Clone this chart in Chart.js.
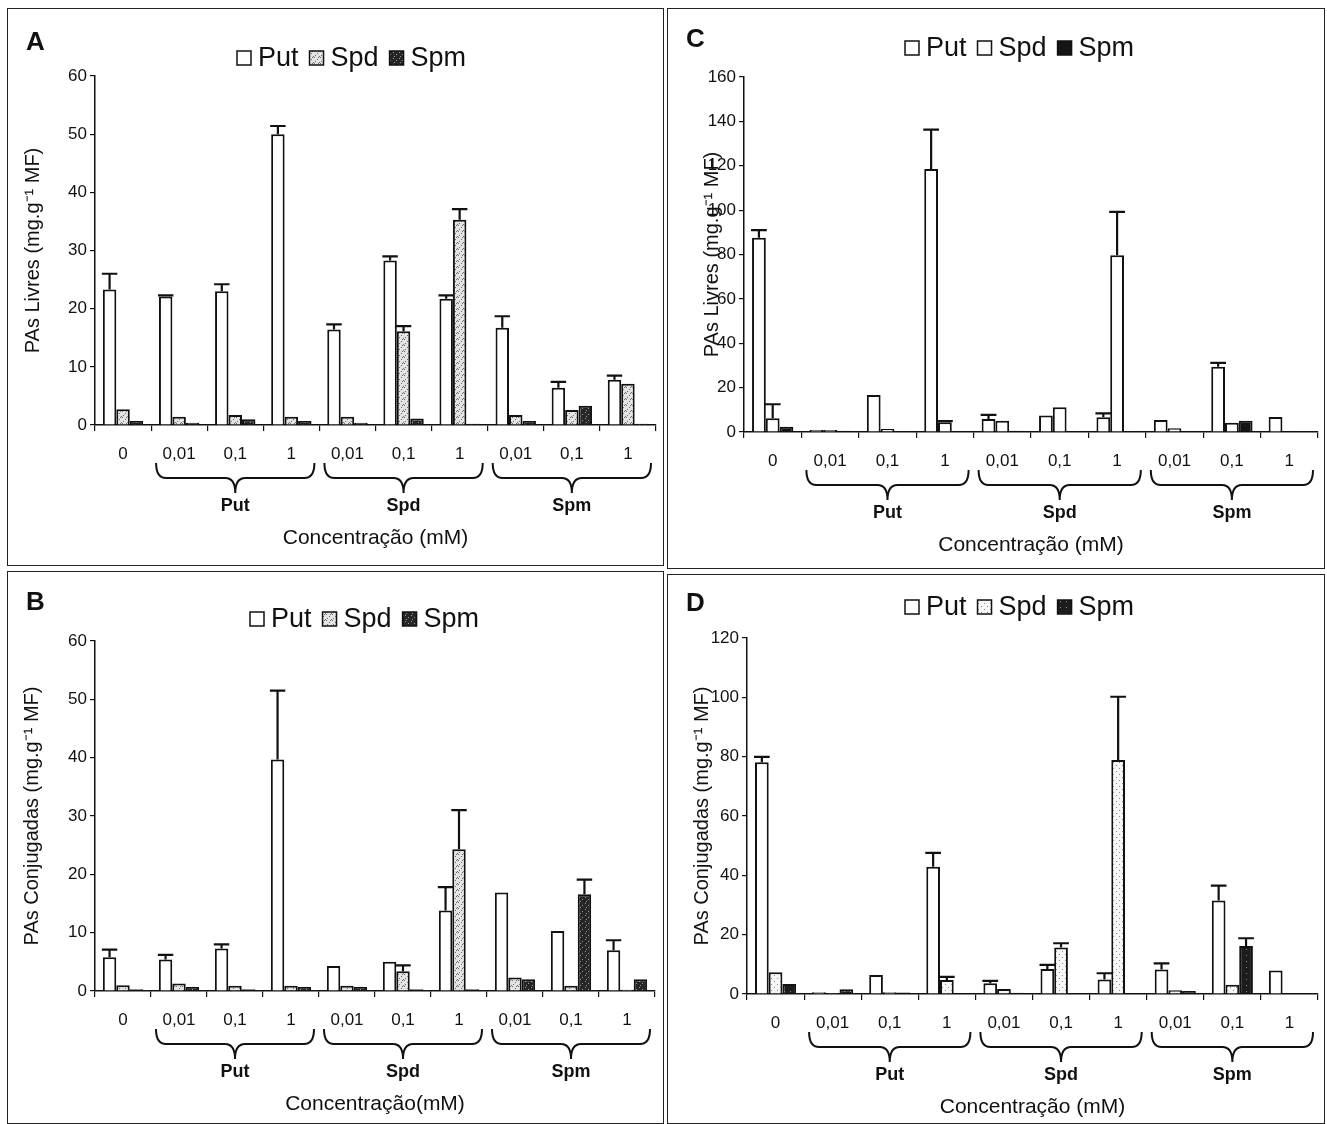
<!DOCTYPE html>
<html>
<head>
<meta charset="utf-8">
<script src="https://cdn.jsdelivr.net/npm/chart.js@4.4.1/dist/chart.umd.min.js"></script>
<style>
  body { margin: 0; background: #fff; width: 1327px; height: 1124px; position: relative; overflow: hidden; }
  .panel { position: absolute; border: 1px solid #222; box-sizing: border-box; background: #fff; }
  .panel canvas { position: absolute; left: 0; top: 0; }
</style>
</head>
<body>
<div class="panel" id="pA"><canvas id="cA"></canvas></div>
<div class="panel" id="pB"><canvas id="cB"></canvas></div>
<div class="panel" id="pC"><canvas id="cC"></canvas></div>
<div class="panel" id="pD"><canvas id="cD"></canvas></div>
<script>
// categorias do eixo x
const categories = ["0", "0,01", "0,1", "1", "0,01", "0,1", "1", "0,01", "0,1", "1"];
const groupLabels = ["Put", "Spd", "Spm"];
const seriesNames = ["Put", "Spd", "Spm"];

// A - PAs livres (esquerda)
const aPut   = [23.3, 22.1, 23.0, 50.0, 16.4, 28.3, 21.7, 16.7, 6.4, 7.8];
const aPutSd = [2.7, 0.2, 1.2, 1.4, 0.9, 0.7, 0.6, 2.0, 1.0, 0.7];
const aSpd   = [2.7, 1.4, 1.7, 1.4, 1.4, 16.1, 35.3, 1.7, 2.6, 7.1];
const aSpdSd = [0, 0, 0, 0, 0, 0.9, 1.8, 0, 0, 0];
const aSpm   = [0.7, 0.4, 1.0, 0.7, 0.4, 1.1, 0.2, 0.7, 3.3, 0.2];
const aSpmSd = [0, 0, 0, 0, 0, 0, 0, 0, 0, 0];

// B - PAs conjugadas (esquerda)
const bPut   = [5.8, 5.4, 7.3, 39.7, 4.3, 5.0, 13.8, 16.9, 10.3, 7.0];
const bPutSd = [1.3, 0.8, 0.7, 11.8, 0, 0, 4.0, 0, 0, 1.7];
const bSpd   = [1.0, 1.3, 0.9, 0.9, 0.9, 3.4, 24.3, 2.3, 0.9, 0.2];
const bSpdSd = [0, 0, 0, 0, 0, 1.0, 6.7, 0, 0, 0];
const bSpm   = [0.3, 0.7, 0.3, 0.7, 0.7, 0.3, 0.3, 2.0, 16.6, 2.0];
const bSpmSd = [0, 0, 0, 0, 0, 0, 0, 0, 2.5, 0];

// C - PAs livres (direita)
const cPut   = [87.5, 0.9, 16.7, 118.5, 5.9, 7.4, 6.6, 5.4, 29.4, 6.8];
const cPutSd = [3.5, 0, 0, 17.8, 1.8, 0, 1.8, 0, 1.8, 0];
const cSpd   = [6.2, 0.9, 1.4, 4.4, 5.1, 11.1, 79.7, 1.7, 4.2, 0.2];
const cSpdSd = [6.3, 0, 0, 0.5, 0, 0, 19.5, 0, 0, 0];
const cSpm   = [2.4, 0.6, 0.3, 0.2, 0.6, 0.4, 0.3, 0, 5.1, 0.1];
const cSpmSd = [0, 0, 0, 0, 0, 0, 0, 0, 0, 0];

// D - PAs conjugadas (direita)
const dPut   = [78.1, 0.6, 6.4, 42.9, 3.6, 8.4, 4.9, 8.3, 31.5, 7.9];
const dPutSd = [1.8, 0, 0, 4.7, 0.8, 1.4, 2.1, 2.0, 5.0, 0];
const dSpd   = [7.3, 0.3, 0.6, 4.7, 1.7, 15.7, 78.9, 1.3, 3.1, 0.1];
const dSpdSd = [0, 0, 0, 1.1, 0, 1.4, 21.3, 0, 0, 0];
const dSpm   = [3.4, 1.6, 0.5, 0.3, 0.4, 0.1, 0.2, 1.0, 16.2, 0.1];
const dSpmSd = [0, 0, 0, 0, 0, 0, 0, 0, 2.6, 0];

const FONT = '"Liberation Sans", Arial, sans-serif';
const INK = '#111';

// textura pontilhada das barras
function stipple(ctx, bg, fg, dots) {
    const c = document.createElement('canvas');
    c.width = 6; c.height = 6;
    const g = c.getContext('2d');
    g.fillStyle = bg; g.fillRect(0, 0, 6, 6);
    g.fillStyle = fg;
    dots.forEach(([x, y]) => g.fillRect(x, y, 1, 1));
    return ctx.createPattern(c, 'repeat');
}

// barras de erro (só o lado de cima)
const errorBars = {
    id: 'errorBars',
    afterDatasetsDraw(chart) {
        const ctx = chart.ctx;
        const y = chart.scales.y;
        chart.data.datasets.forEach((ds, i) => {
            chart.getDatasetMeta(i).data.forEach((bar, j) => {
                const sd = ds.sd[j];
                if (!sd) return;
                const yTop = y.getPixelForValue(ds.data[j] + sd);
                const hw = bar.width / 2 + 1;
                ctx.save();
                ctx.strokeStyle = INK;
                ctx.lineWidth = 2.2;
                ctx.beginPath();
                ctx.moveTo(bar.x, bar.y);
                ctx.lineTo(bar.x, yTop);
                ctx.moveTo(bar.x - hw, yTop);
                ctx.lineTo(bar.x + hw, yTop);
                ctx.stroke();
                ctx.restore();
            });
        });
    }
};

function buildPanel(cfg) {
    const panel = document.getElementById(cfg.panelId);
    const { box, plot } = cfg;
    panel.style.left = box.l + 'px';
    panel.style.top = box.t + 'px';
    panel.style.width = box.w + 'px';
    panel.style.height = box.h + 'px';

    const ox = box.l + 1, oy = box.t + 1;
    const cw = box.w - 2, ch = box.h - 2;
    const canvas = document.getElementById(cfg.canvasId);
    canvas.width = cw;
    canvas.height = ch;
    const ctx0 = canvas.getContext('2d');

    const left = plot.l - ox, right = plot.r - ox, top = plot.t - oy, bottom = plot.b - oy;

    let spdFill, spmFill;
    if (cfg.style === 'plain') {
        spdFill = '#ffffff';
        spmFill = '#151515';
    } else if (cfg.style === 'light') {
        spdFill = stipple(ctx0, '#f6f6f6', '#8a8a8a', [[1, 1], [4, 4]]);
        spmFill = stipple(ctx0, '#1c1c1c', '#8a8a8a', [[2, 2]]);
    } else {
        spdFill = stipple(ctx0, '#e4e4e4', '#6a6a6a', [[0, 0], [3, 2], [1, 4], [5, 5], [4, 0]]);
        spmFill = stipple(ctx0, '#262626', '#9a9a9a', [[1, 1], [4, 3], [2, 5]]);
    }
    const fills = ['#ffffff', spdFill, spmFill];

    const decor = {
        id: 'decor',
        afterDraw(chart) {
            const ctx = chart.ctx;
            const xs = chart.scales.x;
            const base = chart.chartArea.bottom;
            ctx.save();
            ctx.fillStyle = INK;

            // letra do painel
            ctx.font = 'bold 26px ' + FONT;
            ctx.textAlign = 'left';
            ctx.textBaseline = 'middle';
            ctx.fillText(cfg.letter, cfg.letterPos[0] - ox, cfg.letterPos[1] - oy);

            // legenda
            ctx.font = '27px ' + FONT;
            let lx = cfg.legendPos[0] - ox;
            const ly = cfg.legendPos[1] - oy;
            seriesNames.forEach((name, k) => {
                ctx.fillStyle = fills[k];
                ctx.fillRect(lx, ly - 7, 14, 14);
                ctx.strokeStyle = INK;
                ctx.lineWidth = 1.5;
                ctx.strokeRect(lx, ly - 7, 14, 14);
                ctx.fillStyle = INK;
                ctx.fillText(name, lx + 21, ly + 1);
                lx += 21 + ctx.measureText(name).width + 11;
            });

            // chaves + nomes dos grupos
            const half = (xs.getPixelForValue(1) - xs.getPixelForValue(0)) / 2;
            const yTop = base + 38, yMid = base + 53, yTip = base + 68;
            ctx.strokeStyle = INK;
            ctx.lineWidth = 2;
            groupLabels.forEach((g, k) => {
                const x0 = xs.getPixelForValue(1 + 3 * k) - half + 5;
                const x1 = xs.getPixelForValue(3 + 3 * k) + half - 5;
                const xc = (x0 + x1) / 2, r = 10;
                ctx.beginPath();
                ctx.moveTo(x0, yTop);
                ctx.quadraticCurveTo(x0, yMid, x0 + r, yMid);
                ctx.lineTo(xc - r, yMid);
                ctx.quadraticCurveTo(xc, yMid, xc, yTip);
                ctx.quadraticCurveTo(xc, yMid, xc + r, yMid);
                ctx.lineTo(x1 - r, yMid);
                ctx.quadraticCurveTo(x1, yMid, x1, yTop);
                ctx.stroke();

                ctx.font = 'bold 18px ' + FONT;
                ctx.textAlign = 'center';
                ctx.fillText(g, xc, base + 81);
            });

            // título do eixo x
            ctx.font = '21px ' + FONT;
            ctx.textAlign = 'center';
            ctx.fillText(cfg.xTitle, (chart.chartArea.left + chart.chartArea.right) / 2, base + 113);
            ctx.restore();
        }
    };

    const mk = (k, data, sd) => ({
        label: seriesNames[k],
        data: data,
        sd: sd,
        backgroundColor: fills[k],
        borderColor: INK,
        borderWidth: 2,
        categoryPercentage: 0.72,
        barPercentage: 1.0
    });

    new Chart(canvas, {
        type: 'bar',
        data: {
            labels: categories,
            datasets: [mk(0, cfg.put, cfg.putSd), mk(1, cfg.spd, cfg.spdSd), mk(2, cfg.spm, cfg.spmSd)]
        },
        options: {
            responsive: false,
            animation: false,
            layout: { padding: { top: top, right: cw - right, left: 0, bottom: 0 } },
            plugins: { legend: { display: false }, tooltip: { enabled: false } },
            scales: {
                x: {
                    grid: { offset: true, drawOnChartArea: false, tickLength: 6, color: INK, lineWidth: 1.2 },
                    border: { color: INK, width: 1.5 },
                    ticks: { font: { family: FONT, size: 17 }, color: INK, padding: 13, maxRotation: 0, autoSkip: false },
                    afterFit(s) { s.height = ch - bottom; }
                },
                y: {
                    min: 0,
                    max: cfg.max,
                    ticks: { stepSize: cfg.step, font: { family: FONT, size: 17 }, color: INK, padding: 3 },
                    grid: { drawOnChartArea: false, tickLength: 5, color: INK, lineWidth: 1.2 },
                    border: { color: INK, width: 1.5 },
                    title: { display: true, text: cfg.yTitle, color: INK, font: { family: FONT, size: 20 }, padding: { top: cfg.titlePad, bottom: 0 } },
                    afterFit(s) { s.width = left; }
                }
            }
        },
        plugins: [errorBars, decor]
    });
}

buildPanel({
    panelId: 'pA', canvasId: 'cA', letter: 'A',
    box: { l: 7, t: 8, w: 657, h: 558 }, plot: { l: 95, r: 656, t: 76, b: 425 },
    letterPos: [26, 43], legendPos: [237, 58],
    put: aPut, putSd: aPutSd, spd: aSpd, spdSd: aSpdSd, spm: aSpm, spmSd: aSpmSd,
    max: 60, step: 10, titlePad: 13,
    yTitle: 'PAs Livres (mg.g⁻¹ MF)', xTitle: 'Concentração (mM)'
});

buildPanel({
    panelId: 'pB', canvasId: 'cB', letter: 'B',
    box: { l: 7, t: 571, w: 657, h: 553 }, plot: { l: 95, r: 655, t: 641, b: 991 },
    letterPos: [26, 603], legendPos: [250, 619],
    put: bPut, putSd: bPutSd, spd: bSpd, spdSd: bSpdSd, spm: bSpm, spmSd: bSpmSd,
    max: 60, step: 10, titlePad: 12,
    yTitle: 'PAs Conjugadas (mg.g⁻¹ MF)', xTitle: 'Concentração(mM)'
});

buildPanel({
    panelId: 'pC', canvasId: 'cC', letter: 'C', style: 'plain',
    box: { l: 667, t: 8, w: 658, h: 561 }, plot: { l: 744, r: 1318, t: 77, b: 432 },
    letterPos: [686, 40], legendPos: [905, 48],
    put: cPut, putSd: cPutSd, spd: cSpd, spdSd: cSpdSd, spm: cSpm, spmSd: cSpmSd,
    max: 160, step: 20, titlePad: 32,
    yTitle: 'PAs Livres (mg.g⁻¹ MF)', xTitle: 'Concentração (mM)'
});

buildPanel({
    panelId: 'pD', canvasId: 'cD', letter: 'D', style: 'light',
    box: { l: 667, t: 574, w: 658, h: 550 }, plot: { l: 747, r: 1318, t: 638, b: 994 },
    letterPos: [686, 604], legendPos: [905, 607],
    put: dPut, putSd: dPutSd, spd: dSpd, spdSd: dSpdSd, spm: dSpm, spmSd: dSpmSd,
    max: 120, step: 20, titlePad: 22,
    yTitle: 'PAs Conjugadas (mg.g⁻¹ MF)', xTitle: 'Concentração (mM)'
});
</script>
</body>
</html>
